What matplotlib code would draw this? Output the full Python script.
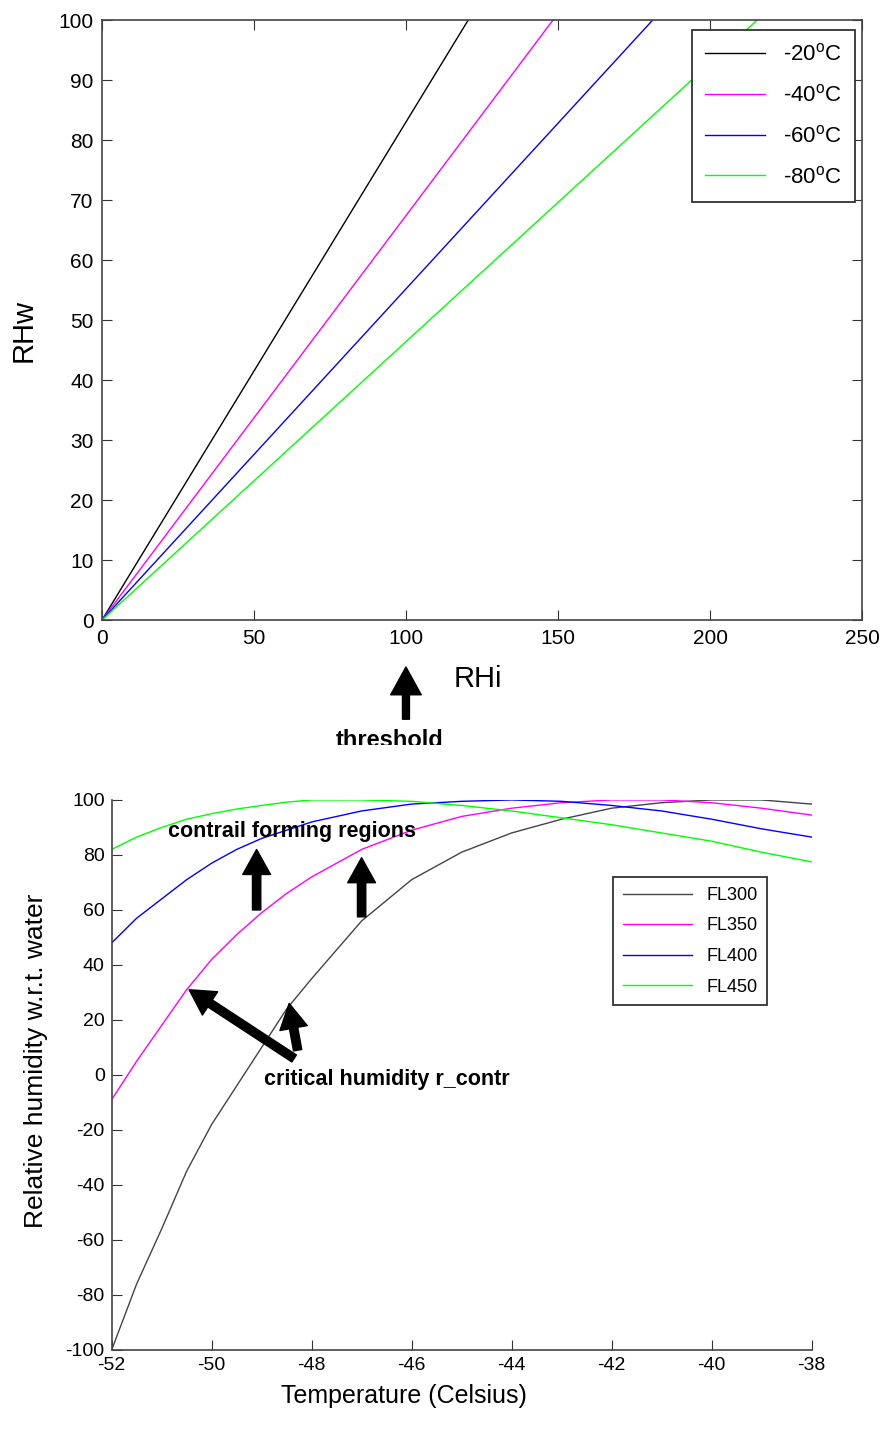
import numpy as np
import matplotlib.pyplot as plt
from matplotlib.patches import Rectangle

plt.rcParams['font.family'] = ['Liberation Sans', 'DejaVu Sans']
plt.rcParams['axes.unicode_minus'] = False

# top panel: RHw vs RHi
rhi_pts = [0, 50, 100, 250]
rhw_m20 = [0, 41.5, 83.0, 207.5]
rhw_m40 = [0, 33.7, 67.4, 168.5]
rhw_m60 = [0, 27.6, 55.2, 138.0]
rhw_m80 = [0, 23.2, 46.4, 116.0]
top_labels = [r'-20$^\mathregular{o}$C', r'-40$^\mathregular{o}$C',
              r'-60$^\mathregular{o}$C', r'-80$^\mathregular{o}$C']

# bottom panel: critical humidity vs temperature
temp = [-52, -51.5, -51, -50.5, -50, -49.5, -49, -48.5, -48, -47, -46, -45, -44,
        -43, -42, -41, -40, -39, -38]
fl300 = [-100, -76, -56, -35, -18, -4, 10, 24, 35, 56, 71, 81, 88,
         93, 97, 99, 100, 100, 98.5]
fl350 = [-9, 5, 18, 31, 42, 51, 59, 66, 72, 82, 89, 94, 97,
         99, 100, 100, 99, 97, 94.5]
fl400 = [48, 57, 64, 71, 77, 82, 86, 89, 92, 96, 98.5, 99.5, 100,
         99.5, 98, 96, 93, 89.5, 86.5]
fl450 = [82, 86.5, 90, 93, 95, 96.7, 98, 99.2, 100, 100, 99.5, 98, 96,
         93.5, 91, 88, 85, 81, 77.5]
bottom_labels = ['FL300', 'FL350', 'FL400', 'FL450']

colors = ['#000000', '#ff00ff', '#0000ff', '#00ff00']

fig = plt.figure(figsize=(8.86, 14.29), dpi=100)

# ---- top ----
ax1 = fig.add_axes([0.115, 0.566, 0.858, 0.420])
for ys, c, lab in zip([rhw_m20, rhw_m40, rhw_m60, rhw_m80], colors, top_labels):
    ax1.plot(rhi_pts, ys, color=c, lw=1.0, label=lab)
ax1.set_xlim(0, 250)
ax1.set_ylim(0, 100)
ax1.set_xticks(np.arange(0, 251, 50))
ax1.set_yticks(np.arange(0, 101, 10))
ax1.tick_params(direction='in', length=7, top=True, right=True, labelsize=15,
                color='#333333', pad=6)
for s in ax1.spines.values():
    s.set_color('#444444')
    s.set_linewidth(1.2)
ax1.set_ylabel('RHw', fontsize=21)
ax1.yaxis.set_label_coords(-0.084, 0.483)
ax1.set_xlabel('RHi', fontsize=21)
ax1.xaxis.set_label_coords(0.495, -0.075)
leg1 = ax1.legend(loc='upper right', bbox_to_anchor=(0.991, 0.983), fontsize=16,
                  fancybox=False, edgecolor='#333333', framealpha=1,
                  handlelength=2.7, labelspacing=0.85, borderpad=0.6,
                  borderaxespad=0)
leg1.get_frame().set_linewidth(1.3)

ax1.annotate('', xy=(100, -7.8), xytext=(100, -16.5), annotation_clip=False,
             arrowprops=dict(facecolor='black', edgecolor='black', width=5,
                             headwidth=22, headlength=20))
ax1.text(94.5, -20.0, 'threshold', fontsize=17, fontweight='bold',
         ha='center', va='center', clip_on=False)

# white band hiding the cut-off part
fig.patches.append(Rectangle((0, (1429 - 790) / 1429), 1, 45 / 1429,
                             transform=fig.transFigure, facecolor='white',
                             edgecolor='none', zorder=10))

# ---- bottom ----
ax2 = fig.add_axes([0.126, 0.0553, 0.790, 0.3849])
for ys, c, lab in zip([fl300, fl350, fl400, fl450], colors, bottom_labels):
    col = '#444444' if c == '#000000' else c
    ax2.plot(temp, ys, color=col, lw=1.0, label=lab)
ax2.set_xlim(-52, -38)
ax2.set_ylim(-100, 100)
ax2.set_xticks(np.arange(-52, -37, 2))
ax2.set_yticks(np.arange(-100, 101, 20))
ax2.spines['top'].set_visible(False)
ax2.spines['right'].set_visible(False)
for s in ['left', 'bottom']:
    ax2.spines[s].set_color('#444444')
    ax2.spines[s].set_linewidth(1.2)
ax2.tick_params(direction='in', length=7, labelsize=14, color='#333333', pad=5)
for lab in ax2.get_xticklabels() + ax2.get_yticklabels():
    lab.set_family(['Liberation Sans Narrow', 'Liberation Sans'])
ax2.set_ylabel('Relative humidity w.r.t. water', fontsize=19)
ax2.yaxis.set_label_coords(-0.091, 0.525)
ax2.set_xlabel('Temperature (Celsius)', fontsize=18)
ax2.xaxis.set_label_coords(0.417, -0.062)
leg2 = ax2.legend(loc='upper right', bbox_to_anchor=(0.937, 0.86), fontsize=13,
                  fancybox=False, edgecolor='#333333', framealpha=1,
                  handlelength=3.8, labelspacing=0.75, borderpad=0.55,
                  borderaxespad=0)
leg2.get_frame().set_linewidth(1.3)
for t in leg2.get_texts():
    t.set_family(['Liberation Sans Narrow', 'Liberation Sans'])

arrow = dict(facecolor='black', edgecolor='black', width=6, headwidth=20, headlength=18)
ax2.text(-48.4, 88.5, 'contrail forming regions', fontsize=15.5, fontweight='bold',
         ha='center', va='center')
ax2.annotate('', xy=(-49.1, 82), xytext=(-49.1, 60), arrowprops=arrow)
ax2.annotate('', xy=(-47.0, 79), xytext=(-47.0, 57.5), arrowprops=arrow)
ax2.text(-48.95, -1.5, 'critical humidity r_contr', fontsize=15.5, fontweight='bold',
         ha='left', va='center')
ax2.annotate('', xy=(-50.45, 31), xytext=(-48.35, 6), arrowprops=arrow)
ax2.annotate('', xy=(-48.45, 26), xytext=(-48.28, 9), arrowprops=arrow)

fig.savefig('out.png', dpi=100)
